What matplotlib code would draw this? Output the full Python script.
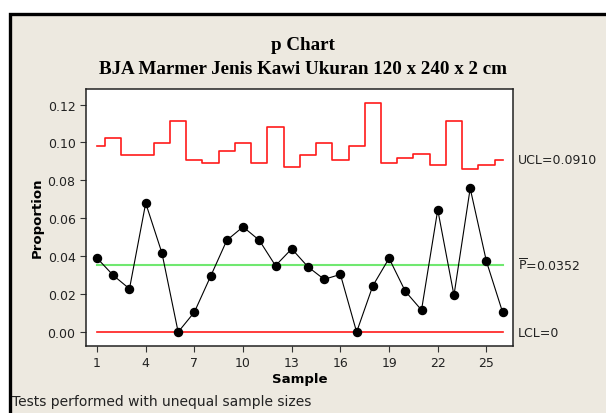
import matplotlib
matplotlib.use("Agg")
import matplotlib.pyplot as plt
from matplotlib.patches import Rectangle
import numpy as np

plt.rcParams["mathtext.fontset"] = "dejavusans"

# Data

samples = np.arange(1, 27)
proportion = [0.0390, 0.0299, 0.0228, 0.0680, 0.0417, 0.0000, 0.0105,
              0.0294, 0.0484, 0.0555, 0.0484, 0.0350, 0.0439, 0.0344,
              0.0278, 0.0304, 0.0000, 0.0244, 0.0389, 0.0215, 0.0116,
              0.0645, 0.0194, 0.0758, 0.0373, 0.0104]
ucl = [0.0979, 0.1025, 0.0935, 0.0935, 0.0997, 0.1114, 0.0907, 0.0891,
       0.0953, 0.0998, 0.0891, 0.1080, 0.0869, 0.0935, 0.0998, 0.0907,
       0.0979, 0.1209, 0.0891, 0.0918, 0.0937, 0.0879, 0.1114, 0.0858,
       0.0879, 0.0909]
p_bar = 0.0352
lcl = 0.0
ucl_label = "UCL=0.0910"
xticks = [1, 4, 7, 10, 13, 16, 19, 22, 25]
yticks = [0.00, 0.02, 0.04, 0.06, 0.08, 0.10, 0.12]

beige = "#EDE9E0"

fig = plt.figure(figsize=(6.06, 4.14), dpi=100)
fig.patch.set_facecolor("white")

# Outer frame (cropped at right and bottom)
frame = Rectangle((9.5 / 606, -0.2), 1.2, 0.2 + 1 - 14.5 / 414,
                  transform=fig.transFigure, facecolor=beige,
                  edgecolor="black", linewidth=2.4, zorder=-5)
fig.patches.append(frame)

ax = fig.add_axes([86 / 606, 1 - 346.5 / 414, 426.7 / 606, 256.5 / 414])
ax.set_zorder(2)
ax.set_facecolor("white")

ax.step(samples, ucl, where="mid", color="#FF1A1A", lw=1.2)
ax.plot([samples[0], samples[-1]], [p_bar, p_bar], color="#70E870", lw=1.5)
ax.plot([samples[0], samples[-1]], [lcl, lcl], color="#FF1A1A", lw=1.2)
ax.plot(samples, proportion, color="black", lw=0.8, marker="o", ms=5.8)

ax.set_xlim(0.32, 26.62)
ax.set_ylim(-0.0071, 0.1282)
ax.set_xticks(xticks)
ax.set_yticks(yticks)
ax.set_yticklabels([f"{v:.2f}" for v in yticks])
ax.tick_params(labelsize=9, length=4, width=0.8, color="#333333",
               labelcolor="#222222")
for s in ax.spines.values():
    s.set_linewidth(1.1)
    s.set_color("#222222")

ax.set_xlabel("Sample", fontsize=9.5, fontweight="bold", labelpad=2)
ax.set_ylabel("Proportion", fontsize=9.5, fontweight="bold", labelpad=3)

# Right-hand labels
tr = ax.get_yaxis_transform()
ax.text(1.013, ucl[-1], ucl_label, transform=tr, va="center", ha="left",
        fontsize=9, color="#222222")
ax.text(1.013, p_bar, r"$\overline{\mathrm{P}}$" + f"={p_bar:.4f}",
        transform=tr, va="center", ha="left", fontsize=9, color="#222222")
ax.text(1.013, lcl, "LCL=0", transform=tr, va="center", ha="left",
        fontsize=9, color="#222222")

# Titles
fig.text(0.5, 1 - 45 / 414, "p Chart", ha="center", va="center",
         fontsize=13.7, fontweight="bold", family="Liberation Serif")
fig.text(0.5, 1 - 70 / 414, "BJA Marmer Jenis Kawi Ukuran 120 x 240 x 2 cm",
         ha="center", va="center", fontsize=13.7, fontweight="bold",
         family="Liberation Serif")

fig.text(12 / 606, 1 - 402 / 414, "Tests performed with unequal sample sizes",
         ha="left", va="center", fontsize=10, color="#222222")

fig.savefig("out.png", dpi=100)
